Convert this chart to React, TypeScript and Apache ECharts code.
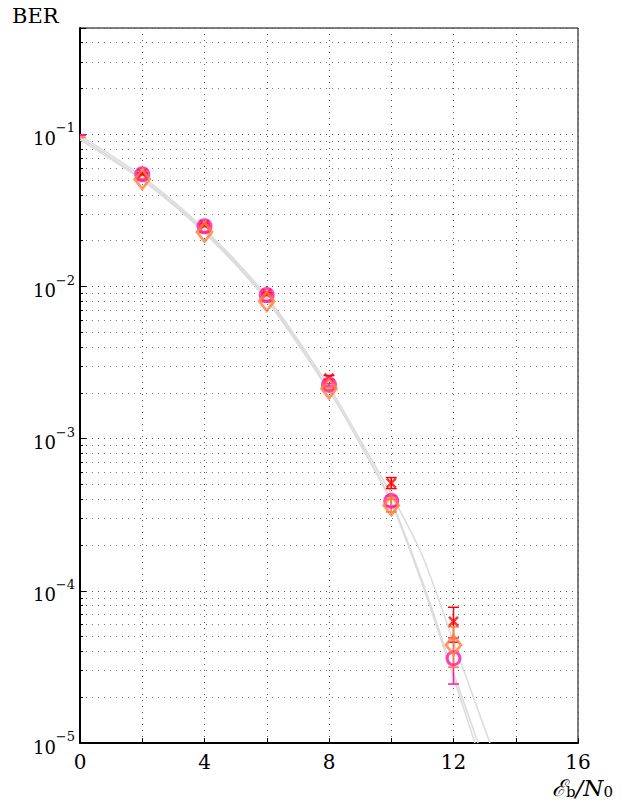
import { useEffect, useRef } from "react";
import * as echarts from "echarts";

// Eb/N0 grid of the simulated points
const ebn0 = [0, 2, 4, 6, 8, 10, 12];

// simulated BER, red crosses
const berCross = [0.1, 0.0555, 0.0255, 0.009, 0.0025, 5.1e-4, 6.3e-5];
const berCrossLo = [0.0985, 0.055, 0.0252, 0.0089, 0.00245, 4.7e-4, 4.6e-5];
const berCrossHi = [0.0995, 0.056, 0.0258, 0.0091, 0.0026, 5.55e-4, 7.8e-5];

// simulated BER, orange diamonds
const berDiamond = [0.096, 0.0507, 0.0228, 0.008, 0.00213, 3.64e-4, 4.4e-5];
const berDiamondLo = [0.0952, 0.0502, 0.0226, 0.0079, 0.0021, 3.3e-4, 3.15e-5];
const berDiamondHi = [0.0958, 0.0512, 0.023, 0.0081, 0.00216, 4.0e-4, 5.8e-5];

// simulated BER, magenta circles
const berCircle = [0.099, 0.0547, 0.0249, 0.0088, 0.00226, 3.9e-4, 3.6e-5];
const berCircleLo = [0.0985, 0.0542, 0.0247, 0.0087, 0.00222, 3.6e-4, 2.44e-5];
const berCircleHi = [0.0995, 0.0552, 0.0251, 0.0089, 0.0023, 4.2e-4, 4.9e-5];

// theoretical curves (light grey)
const theoryAx = [0, 2, 4, 6, 8, 9, 10, 11, 12, 12.69];
const theoryAy = [0.095, 0.051, 0.0231, 0.0083, 0.0021, 9.2e-4, 3.8e-4, 1.1e-4, 2.7e-5, 1e-5];
const theoryBx = [0, 2, 4, 6, 8, 9, 10, 11, 12, 12.79];
const theoryBy = [0.092, 0.0498, 0.0225, 0.0081, 0.00206, 9.3e-4, 3.9e-4, 1.15e-4, 2.9e-5, 1e-5];
const theoryCx = [0, 2, 4, 6, 8, 9, 10, 11, 12, 13.17];
const theoryCy = [0.098, 0.0528, 0.0238, 0.0086, 0.0022, 9.8e-4, 4.3e-4, 1.7e-4, 4.6e-5, 1e-5];

const xTicks = [0, 4, 8, 12, 16];

const RED = "#ff0000";
const ORANGE = "#ff7f3a";
const MAGENTA = "#ff1aa3";
const GREY = "#dcdcdc";
const FONT = "'DejaVu Serif', 'Liberation Serif', serif";

function pairs(xs: number[], ys: number[]) {
  return xs.map((x, i) => [x, ys[i]]);
}

function errSeries(lo: number[], hi: number[], color: string) {
  return {
    type: "custom",
    clip: true,
    z: 3,
    data: ebn0.map((x, i) => [x, lo[i], hi[i]]),
    encode: { x: 0, y: [1, 2] },
    renderItem: (_p: any, api: any) => {
      const x = api.value(0);
      const pLo = api.coord([x, api.value(1)]);
      const pHi = api.coord([x, api.value(2)]);
      const w = 5.5;
      const style = { stroke: color, lineWidth: 1.5, fill: "none" };
      return {
        type: "group",
        children: [
          { type: "line", shape: { x1: pLo[0], y1: pLo[1], x2: pHi[0], y2: pHi[1] }, style },
          { type: "line", shape: { x1: pLo[0] - w, y1: pLo[1], x2: pLo[0] + w, y2: pLo[1] }, style },
          { type: "line", shape: { x1: pHi[0] - w, y1: pHi[1], x2: pHi[0] + w, y2: pHi[1] }, style },
        ],
      };
    },
  };
}

function theory(xs: number[], ys: number[]) {
  return {
    type: "line",
    data: pairs(xs, ys),
    showSymbol: false,
    smooth: 0.3,
    clip: true,
    z: 1,
    lineStyle: { color: GREY, width: 1.6 },
    silent: true,
  };
}

export default function App() {
  const ref = useRef<HTMLDivElement>(null);
  useEffect(() => {
    if (!ref.current) return;
    const chart = echarts.init(ref.current, undefined, { renderer: "svg" });
    const option: any = {
      animation: false,
      backgroundColor: "#fff",
      textStyle: { fontFamily: FONT },
      grid: {
        left: 80,
        top: 28,
        right: 45,
        bottom: 67,
        show: true,
        borderColor: "#000",
        borderWidth: 1,
        backgroundColor: "transparent",
      },
      xAxis: {
        type: "value",
        min: 0,
        max: 16,
        interval: 2,
        axisLine: { show: true, onZero: false, lineStyle: { color: "#000", width: 2 } },
        axisTick: { show: true, inside: true, length: 5, lineStyle: { color: "#000", width: 1 } },
        splitLine: { show: true, lineStyle: { color: "#555", width: 1, type: [1, 5] } },
        axisLabel: {
          color: "#000",
          fontFamily: FONT,
          fontSize: 20,
          margin: 9,
          formatter: (v: number) => (xTicks.indexOf(v) >= 0 ? String(v) : ""),
        },
      },
      yAxis: {
        type: "log",
        logBase: 10,
        min: 1e-5,
        max: 0.5,
        axisLine: { show: true, lineStyle: { color: "#000", width: 2 } },
        axisTick: { show: true, inside: true, length: 6, lineStyle: { color: "#000" } },
        minorTick: { show: true, splitNumber: 9, length: 3, lineStyle: { color: "#000" } },
        splitLine: { show: true, lineStyle: { color: "#555", width: 1, type: [1, 5] } },
        minorSplitLine: { show: true, lineStyle: { color: "#777", width: 1, type: [1, 5] } },
        axisLabel: {
          color: "#000",
          margin: 5,
          showMaxLabel: false,
          formatter: (v: number) => {
            const e = Math.log10(v);
            const r = Math.round(e);
            if (Math.abs(e - r) > 1e-6) return "";
            return "{b|10}{s|" + (r < 0 ? "\u2212" + -r : String(r)) + "}";
          },
          rich: {
            b: { fontFamily: FONT, fontSize: 18, color: "#000", lineHeight: 26, verticalAlign: "bottom" },
            s: { fontFamily: FONT, fontSize: 13, color: "#000", lineHeight: 26, verticalAlign: "top" },
          },
        },
      },
      graphic: [
        {
          type: "text",
          left: 12,
          top: 5,
          style: { text: "BER", fontFamily: FONT, fontSize: 21, fill: "#000" },
        },
        {
          type: "text",
          right: 10,
          top: 776,
          style: {
            text: "{i|\u2130}{sub|b}{i|/N}{sub|0}",
            rich: {
              i: { fontFamily: FONT, fontStyle: "italic", fontSize: 23, fill: "#000", lineHeight: 30, verticalAlign: "bottom" },
              sub: { fontFamily: FONT, fontSize: 15, fill: "#000", lineHeight: 26, verticalAlign: "bottom" },
            },
          },
        },
      ],
      series: [
        theory(theoryAx, theoryAy),
        theory(theoryBx, theoryBy),
        theory(theoryCx, theoryCy),
        errSeries(berCrossLo, berCrossHi, RED),
        {
          type: "scatter",
          z: 4,
          data: pairs(ebn0.slice(1), berCross.slice(1)),
          symbol: "path://M0,0L10,10M10,0L0,10",
          symbolSize: 9,
          itemStyle: { color: RED, borderColor: RED, borderWidth: 2.5 },
        },
        errSeries(berCircleLo, berCircleHi, MAGENTA),
        {
          type: "scatter",
          z: 5,
          data: pairs(ebn0.slice(1), berCircle.slice(1)),
          symbol: "circle",
          symbolSize: 13,
          itemStyle: { color: "rgba(0,0,0,0)", borderColor: MAGENTA, borderWidth: 3 },
        },
        errSeries(berDiamondLo, berDiamondHi, ORANGE),
        {
          type: "scatter",
          z: 6,
          data: pairs(ebn0.slice(1), berDiamond.slice(1)),
          symbol: "diamond",
          symbolSize: [15, 19],
          itemStyle: { color: "rgba(0,0,0,0)", borderColor: ORANGE, borderWidth: 2.8 },
        },
      ],
    };
    chart.setOption(option);
    return () => chart.dispose();
  }, []);
  return (
    <div
      ref={ref}
      style={{ position: "fixed", left: 0, top: 0, width: 623, height: 810, background: "#fff" }}
    />
  );
}
